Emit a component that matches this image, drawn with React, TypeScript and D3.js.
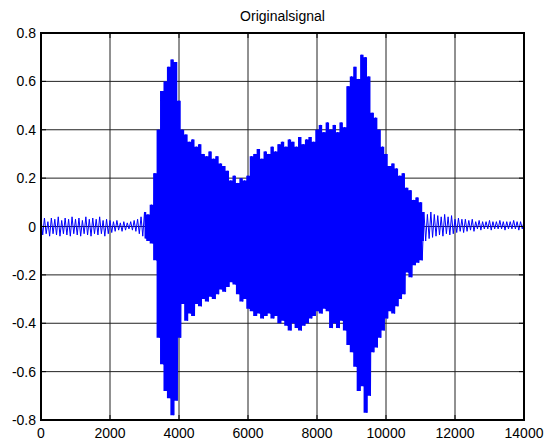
import React from "react";
import * as d3 from "d3";

// envelope of the waveform, one value per 100 samples (0..14000)
const upperPeaks = [
  0.03, 0.035, 0.02, 0.035, 0.03, 0.04, 0.025, 0.035, 0.03, 0.04,
  0.03, 0.035, 0.025, 0.04, 0.03, 0.035, 0.03, 0.04, 0.025, 0.03,
  0.025, 0.02, 0.025, 0.015, 0.02, 0.015, 0.02, 0.025, 0.03, 0.04,
  0.06, 0.05, 0.09, 0.22, 0.4, 0.56, 0.6, 0.66, 0.69, 0.68,
  0.52, 0.4, 0.38, 0.35, 0.36, 0.33, 0.34, 0.3, 0.29, 0.31,
  0.28, 0.29, 0.26, 0.25, 0.23, 0.19, 0.21, 0.18, 0.2, 0.19,
  0.21, 0.29, 0.3, 0.32, 0.28, 0.31, 0.3, 0.33, 0.31, 0.34,
  0.35, 0.33, 0.36, 0.35, 0.33, 0.37, 0.34, 0.36, 0.37, 0.35,
  0.4, 0.42, 0.39, 0.43, 0.4, 0.42, 0.39, 0.43, 0.41, 0.58,
  0.62, 0.66, 0.61, 0.71, 0.7, 0.62, 0.47, 0.45, 0.4, 0.33,
  0.3, 0.25, 0.26, 0.24, 0.21, 0.22, 0.16, 0.15, 0.11, 0.12,
  0.1, 0.06, 0.05, 0.06, 0.05, 0.045, 0.04, 0.05, 0.04, 0.045,
  0.03, 0.035, 0.03, 0.03, 0.025, 0.03, 0.02, 0.025, 0.02, 0.02,
  0.025, 0.02, 0.02, 0.025, 0.02, 0.02, 0.02, 0.025, 0.02, 0.02,
  0.02,
];

const lowerPeaks = [
  -0.035, -0.03, -0.04, -0.03, -0.035, -0.04, -0.03, -0.035, -0.04, -0.03,
  -0.035, -0.04, -0.03, -0.035, -0.04, -0.03, -0.035, -0.03, -0.04, -0.03,
  -0.025, -0.02, -0.015, -0.02, -0.015, -0.01, -0.015, -0.02, -0.03, -0.04,
  -0.05, -0.06, -0.07, -0.14, -0.46, -0.57, -0.68, -0.71, -0.78, -0.72,
  -0.46, -0.32, -0.39, -0.36, -0.37, -0.32, -0.33, -0.3, -0.31, -0.29,
  -0.3, -0.28, -0.26, -0.27, -0.25, -0.23, -0.24, -0.28, -0.31, -0.3,
  -0.34, -0.35, -0.37, -0.36, -0.38, -0.37, -0.36, -0.38, -0.37, -0.4,
  -0.39, -0.41, -0.43, -0.4, -0.42, -0.43, -0.41, -0.4, -0.38, -0.37,
  -0.35, -0.36, -0.34, -0.35, -0.42, -0.4, -0.42, -0.39, -0.43, -0.49,
  -0.52, -0.58, -0.68, -0.66, -0.77, -0.7, -0.52, -0.5, -0.46, -0.43,
  -0.38, -0.35, -0.36, -0.33, -0.3, -0.28, -0.19, -0.21, -0.16, -0.15,
  -0.14, -0.06, -0.05, -0.045, -0.04, -0.035, -0.04, -0.03, -0.035, -0.03,
  -0.025, -0.02, -0.025, -0.02, -0.015, -0.02, -0.01, -0.015, -0.01, -0.01,
  -0.015, -0.01, -0.01, -0.01, -0.015, -0.01, -0.01, -0.01, -0.015, -0.01,
  -0.01,
];

const sampleStep = 100;
const xTicks = [0, 2000, 4000, 6000, 8000, 10000, 12000, 14000];
const yTicks = [-0.8, -0.6, -0.4, -0.2, 0, 0.2, 0.4, 0.6, 0.8];
const title = "Originalsignal";

const W = 545;
const H = 441;
const margin = { top: 33, right: 21, bottom: 21, left: 41 };

export default function App() {
  const x = d3.scaleLinear().domain([0, 14000]).range([margin.left, W - margin.right]);
  const y = d3.scaleLinear().domain([-0.8, 0.8]).range([H - margin.bottom, margin.top]);

  const idx = upperPeaks.map((_, i) => i);

  // solid body where the signal is loud; quiet stretches are left as a plain trace
  const body = d3
    .area<number>()
    .defined((i) => upperPeaks[i] - lowerPeaks[i] > 0.1)
    .x((i) => x(i * sampleStep))
    .y0((i) => y(lowerPeaks[i]))
    .y1((i) => y(upperPeaks[i]))
    .curve(d3.curveStep);

  // zigzag between the peaks
  const pts: [number, number][] = [];
  upperPeaks.forEach((u, i) => {
    const s = i * sampleStep;
    pts.push([s, u]);
    pts.push([i < upperPeaks.length - 1 ? s + sampleStep / 2 : s, lowerPeaks[i]]);
  });
  const line = d3
    .line<[number, number]>()
    .x((d) => x(d[0]))
    .y((d) => y(d[1]));

  const x0 = margin.left;
  const x1 = W - margin.right;
  const y0 = margin.top;
  const y1 = H - margin.bottom;
  const font = "'Liberation Sans', Arial, sans-serif";

  return (
    <div style={{ position: "absolute", left: 0, top: 0 }}>
      <svg width={W} height={H} style={{ display: "block", background: "#fff" }}>
        <text x={(x0 + x1) / 2} y={21} textAnchor="middle" fontFamily={font} fontSize={14}>
          {title}
        </text>
        {/* grid */}
        {xTicks.slice(1, -1).map((t) => (
          <line key={"gx" + t} x1={x(t)} x2={x(t)} y1={y0} y2={y1} stroke="#222" strokeWidth={1} />
        ))}
        {yTicks.slice(1, -1).map((t) => (
          <line key={"gy" + t} x1={x0} x2={x1} y1={y(t)} y2={y(t)} stroke="#222" strokeWidth={1} />
        ))}
        <path d={body(idx) || ""} fill="#0000ff" stroke="none" />
        <path d={line(pts) || ""} fill="none" stroke="#0000ff" strokeWidth={1} />
        {/* frame */}
        <rect x={x0} y={y0} width={x1 - x0} height={y1 - y0} fill="none" stroke="#000" strokeWidth={2} />
        {xTicks.map((t) => (
          <g key={"xt" + t}>
            <line x1={x(t)} x2={x(t)} y1={y1} y2={y1 - 5} stroke="#000" />
            <line x1={x(t)} x2={x(t)} y1={y0} y2={y0 + 5} stroke="#000" />
            <text x={x(t)} y={y1 + 18} textAnchor="middle" fontFamily={font} fontSize={14}>
              {t}
            </text>
          </g>
        ))}
        {yTicks.map((t) => (
          <g key={"yt" + t}>
            <line x1={x0} x2={x0 + 5} y1={y(t)} y2={y(t)} stroke="#000" />
            <line x1={x1} x2={x1 - 5} y1={y(t)} y2={y(t)} stroke="#000" />
            <text x={x0 - 5} y={y(t) + 5} textAnchor="end" fontFamily={font} fontSize={14}>
              {t}
            </text>
          </g>
        ))}
      </svg>
    </div>
  );
}
